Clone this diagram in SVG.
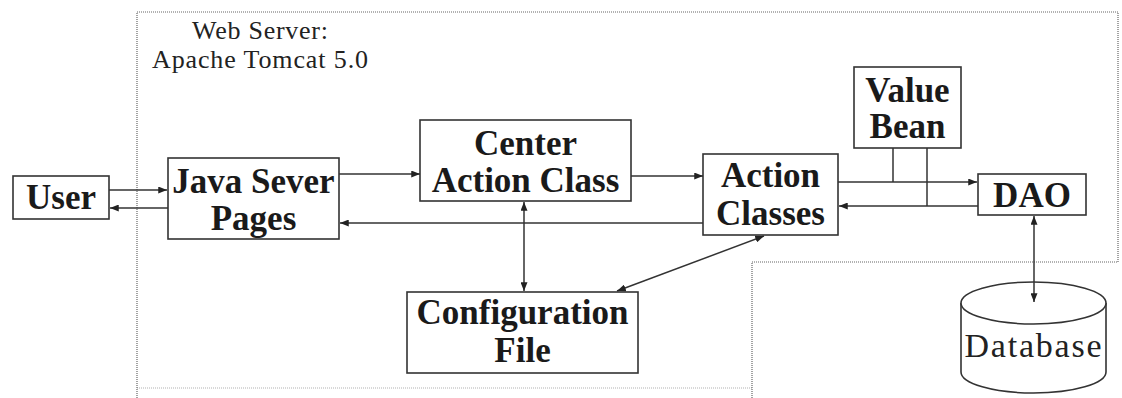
<svg xmlns="http://www.w3.org/2000/svg" width="1122" height="398" viewBox="0 0 1122 398">
<style>
.box{fill:#fff;stroke:#333;stroke-width:1.6}
.lbl{font-family:"Liberation Serif","Times New Roman",serif;font-weight:bold;font-size:35px;fill:#1a1a1a;text-anchor:middle}
.reg{font-family:"Liberation Serif","Times New Roman",serif;fill:#222}
.edge{fill:none;stroke:#333;stroke-width:1.5}
.dot{fill:none;stroke:#666;stroke-width:1.2;stroke-dasharray:1 1}
</style>
<defs>
<marker id="ah" viewBox="0 0 10 8" refX="10" refY="4" markerWidth="9" markerHeight="7" markerUnits="userSpaceOnUse" orient="auto-start-reverse">
<path d="M0,0 L10,4 L0,8 z" fill="#222"/>
</marker>
</defs>
<rect width="1122" height="398" fill="#fff"/>
<g id="server">
<path class="dot" d="M137,398 V12 H1118 V262 H752 V398"/>
<path class="dot" d="M137,388 H752" stroke-opacity="0.5"/>
<text class="reg" x="260" y="39" font-size="26" text-anchor="middle" textLength="136" lengthAdjust="spacing">Web Server:</text>
<text class="reg" x="260" y="68" font-size="26" text-anchor="middle" textLength="216" lengthAdjust="spacing">Apache Tomcat 5.0</text>
</g>
<g id="user">
<rect class="box" x="13" y="176" width="96" height="43"/>
<text class="lbl" x="61" y="209">User</text>
</g>
<g id="jsp">
<rect class="box" x="168" y="158" width="171" height="81"/>
<text class="lbl" x="253.5" y="193">Java Sever</text>
<text class="lbl" x="253.5" y="230">Pages</text>
</g>
<g id="center">
<rect class="box" x="420" y="120" width="211" height="81"/>
<text class="lbl" x="525.5" y="155">Center</text>
<text class="lbl" x="525.5" y="192">Action Class</text>
</g>
<g id="action">
<rect class="box" x="703" y="154" width="135" height="81"/>
<text class="lbl" x="770.5" y="187">Action</text>
<text class="lbl" x="770.5" y="225">Classes</text>
</g>
<g id="valuebean">
<rect class="box" x="854" y="67" width="107" height="81"/>
<text class="lbl" x="907.5" y="102">Value</text>
<text class="lbl" x="907.5" y="138">Bean</text>
</g>
<g id="dao">
<rect class="box" x="978" y="174" width="108" height="41"/>
<text class="lbl" x="1032" y="207">DAO</text>
</g>
<g id="config">
<rect class="box" x="407" y="292" width="231" height="81"/>
<text class="lbl" x="522.5" y="324">Configuration</text>
<text class="lbl" x="522.5" y="362">File</text>
</g>
<g id="database">
<path class="box" d="M961,303 V372 A72.5,21 0 0 0 1106,372 V303"/>
<ellipse class="box" cx="1033.5" cy="303" rx="72.5" ry="21"/>
<text class="reg" x="1033" y="357" font-size="34" text-anchor="middle" textLength="137" lengthAdjust="spacing">Database</text>
</g>
<g id="edges">
<line class="edge" x1="109" y1="190" x2="167" y2="190" marker-end="url(#ah)"/>
<line class="edge" x1="168" y1="208" x2="110" y2="208" marker-end="url(#ah)"/>
<line class="edge" x1="339" y1="174" x2="420" y2="174" marker-end="url(#ah)"/>
<line class="edge" x1="631" y1="176" x2="703" y2="176" marker-end="url(#ah)"/>
<line class="edge" x1="703" y1="223" x2="340" y2="223" marker-end="url(#ah)"/>
<line class="edge" x1="524" y1="202" x2="524" y2="291" marker-start="url(#ah)" marker-end="url(#ah)"/>
<line class="edge" x1="764" y1="236" x2="617" y2="291" marker-start="url(#ah)" marker-end="url(#ah)"/>
<line class="edge" x1="838" y1="182" x2="977" y2="182" marker-end="url(#ah)"/>
<line class="edge" x1="978" y1="206" x2="839" y2="206" marker-end="url(#ah)"/>
<line class="edge" x1="893" y1="148" x2="893" y2="182"/>
<line class="edge" x1="927" y1="148" x2="927" y2="206"/>
<line class="edge" x1="1034" y1="216" x2="1034" y2="302" marker-start="url(#ah)" marker-end="url(#ah)"/>
</g>
</svg>
